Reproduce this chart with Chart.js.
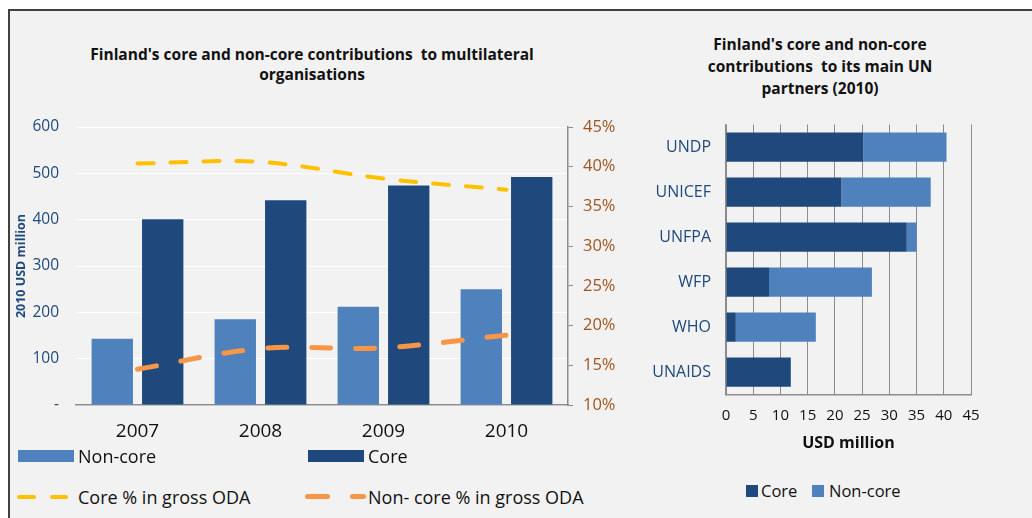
<!DOCTYPE html>
<html>
<head>
<meta charset="utf-8">
<script src="https://cdn.jsdelivr.net/npm/chart.js@4"></script>
<style>
  html, body { margin: 0; padding: 0; background: #fff; }
  body { width: 1032px; height: 518px; position: relative; overflow: hidden; font-family: 'Open Sans', Lato, sans-serif; }
  .frame { position: absolute; left: 8px; top: 9px; right: 0; bottom: 0; background: #f2f2f2; border-left: 2px solid #404040; border-top: 2px solid #404040; }
  canvas { position: absolute; }
  .title { position: absolute; font-weight: bold; font-size: 15.5px; color: #111; text-align: center; }
  .lg { position: absolute; color: #111; white-space: nowrap; }
  .box { position: absolute; }
  .dash { position: absolute; border-radius: 3px; }
</style>
</head>
<body>
<div class="frame"></div>

<div class="title" style="left:42px; width:540px; top:44px; line-height:20px;">Finland's core and non-core contributions&nbsp; to multilateral<br>organisations</div>
<div class="title" style="left:690px; width:260px; top:33px; line-height:22px;">Finland's core and non-core<br>contributions&nbsp; to its main UN<br>partners (2010)</div>

<canvas id="leftChart" width="610" height="345" style="left:10px; top:100px;"></canvas>
<canvas id="rightChart" width="412" height="360" style="left:620px; top:100px;"></canvas>

<!-- left legend -->
<div class="box" style="left:18px; top:450px; width:56px; height:12px; background:#4f81bd;"></div>
<div class="lg" style="left:78px; top:445px; font-size:18px; line-height:22px;">Non-core</div>
<div class="box" style="left:308px; top:450px; width:56px; height:12px; background:#1f497d;"></div>
<div class="lg" style="left:368px; top:445px; font-size:18px; line-height:22px;">Core</div>
<div class="dash" style="left:17px; top:495px; width:19px; height:4px; background:#ffc000;"></div>
<div class="dash" style="left:50px; top:495px; width:18px; height:4px; background:#ffc000;"></div>
<div class="lg" style="left:78px; top:486px; font-size:18px; line-height:22px;">Core % in gross ODA</div>
<div class="dash" style="left:305px; top:494px; width:25px; height:5px; background:#f79646;"></div>
<div class="dash" style="left:350px; top:494px; width:16px; height:5px; background:#f79646;"></div>
<div class="lg" style="left:368px; top:486px; font-size:18px; line-height:22px;">Non- core % in gross ODA</div>

<!-- right legend -->
<div class="box" style="left:746px; top:485px; width:12px; height:12px; background:#1f497d;"></div>
<div class="lg" style="left:761px; top:480px; font-size:16.5px; line-height:21px;">Core</div>
<div class="box" style="left:812px; top:485px; width:12px; height:12px; background:#4f81bd;"></div>
<div class="lg" style="left:829px; top:480px; font-size:16.5px; line-height:21px;">Non-core</div>

<script>
// ── Data ────────────────────────────────────────────────────────────────────
const years = ['2007', '2008', '2009', '2010'];
const nonCoreUsd = [143, 185, 212, 250];
const coreUsd = [401, 442, 474, 492];
const corePctOda = [40.4, 40.6, 38.5, 37.1];
const nonCorePctOda = [14.5, 17.1, 17.2, 18.8];

const partners = ['UNDP', 'UNICEF', 'UNFPA', 'WFP', 'WHO', 'UNAIDS'];
const partnerCore = [25.2, 21.2, 33.2, 7.9, 1.8, 11.9];
const partnerNonCore = [15.3, 16.4, 1.8, 18.9, 14.7, 0];

// ── Colours ─────────────────────────────────────────────────────────────────
const NON_CORE = '#4f81bd';
const CORE = '#1f497d';
const AXIS_GREY = '#8c8c8c';

Chart.defaults.font.family = "'Open Sans', Lato, sans-serif";
Chart.defaults.color = '#111';

// Left: bars + % lines
new Chart(document.getElementById('leftChart'), {
    type: 'bar',
    data: {
        labels: years,
        datasets: [
            {
                type: 'line', label: 'Core % in gross ODA', data: corePctOda, yAxisID: 'y2',
                borderColor: '#ffc000', borderWidth: 4, borderDash: [16, 17], borderCapStyle: 'round',
                pointRadius: 0, tension: 0.35, fill: false, order: 1
            },
            {
                type: 'line', label: 'Non- core % in gross ODA', data: nonCorePctOda, yAxisID: 'y2',
                borderColor: '#f79646', borderWidth: 5, borderDash: [19, 25], borderCapStyle: 'round',
                pointRadius: 0, tension: 0.35, fill: false, order: 1
            },
            {
                label: 'Non-core', data: nonCoreUsd, backgroundColor: NON_CORE,
                categoryPercentage: 0.82, barPercentage: 0.82, order: 2
            },
            {
                label: 'Core', data: coreUsd, backgroundColor: CORE,
                categoryPercentage: 0.82, barPercentage: 0.82, order: 2
            }
        ]
    },
    options: {
        responsive: false,
        animation: false,
        layout: { padding: { top: 27, left: 0, right: 0, bottom: 0 } },
        plugins: { legend: { display: false }, tooltip: { enabled: false } },
        scales: {
            x: {
                grid: { display: false, drawTicks: false },
                border: { color: AXIS_GREY, width: 1.5 },
                ticks: { font: { size: 19 }, color: '#111', padding: 15 },
                afterFit(s) { s.height = 40; }
            },
            y: {
                min: 0, max: 600,
                grid: { color: '#ffffff', lineWidth: 1, drawTicks: false },
                border: { display: false },
                ticks: {
                    stepSize: 100, padding: 17, font: { size: 15.5 }, color: '#1f497d',
                    callback: v => v === 0 ? '-' : v
                },
                title: { display: true, text: '2010 USD million', color: '#1f497d', font: { size: 12.5, weight: 'bold' } },
                afterFit(s) { s.width = 66; }
            },
            y2: {
                position: 'right', min: 10, max: 45,
                grid: { drawOnChartArea: false, color: AXIS_GREY, tickLength: 5 },
                border: { color: AXIS_GREY, width: 1.5 },
                ticks: { stepSize: 5, padding: 10, font: { size: 16.5 }, color: '#a0551e', callback: v => v + '%' },
                afterFit(s) { s.width = 52; }
            }
        }
    }
});

// Right: stacked horizontal bars per UN partner
new Chart(document.getElementById('rightChart'), {
    type: 'bar',
    data: {
        labels: partners,
        datasets: [
            { label: 'Core', data: partnerCore, backgroundColor: CORE, categoryPercentage: 1, barPercentage: 0.65 },
            { label: 'Non-core', data: partnerNonCore, backgroundColor: NON_CORE, categoryPercentage: 1, barPercentage: 0.65 }
        ]
    },
    options: {
        indexAxis: 'y',
        responsive: false,
        animation: false,
        layout: { padding: { top: 17, right: 61, left: 0, bottom: 0 } },
        plugins: { legend: { display: false }, tooltip: { enabled: false } },
        scales: {
            x: {
                stacked: true, min: 0, max: 45,
                grid: { color: AXIS_GREY, lineWidth: 1, drawTicks: false },
                border: { color: AXIS_GREY, width: 1.5 },
                ticks: { stepSize: 5, padding: 12, font: { size: 15 }, color: '#111' },
                title: { display: true, text: 'USD million', color: '#111', font: { size: 16, weight: 'bold' }, padding: { top: 0, bottom: 7 } },
                afterFit(s) { s.height = 65.5; }
            },
            y: {
                stacked: true,
                grid: { display: false, drawTicks: false },
                border: { color: AXIS_GREY, width: 1.5 },
                ticks: { padding: 15, font: { size: 16 }, color: '#1f497d' },
                afterFit(s) { s.width = 106; }
            }
        }
    }
});
</script>
</body>
</html>
